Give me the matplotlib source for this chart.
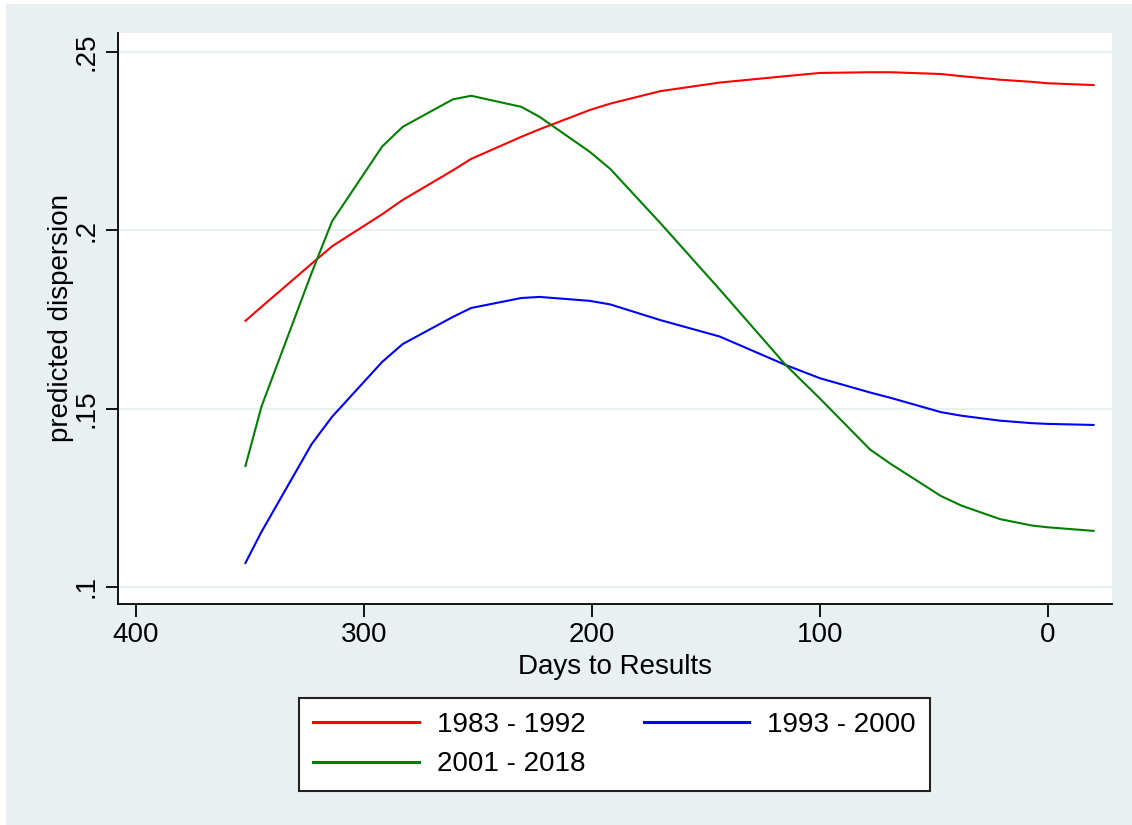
# -*- coding: utf-8 -*-
import matplotlib
matplotlib.use('Agg')
import matplotlib.pyplot as plt
from matplotlib.patches import Rectangle

# 数据
days = [352, 345, 323, 314, 292, 283, 261, 253, 231, 223, 201, 192,
        170, 144, 115, 100, 78, 69, 47, 38, 21, 7, 0, -20]
p1983_1992 = [0.1746, 0.1785, 0.1906, 0.1955, 0.2045, 0.2085, 0.2168, 0.2200,
              0.2262, 0.2283, 0.2337, 0.2355, 0.2390, 0.2414, 0.2432, 0.2441,
              0.2443, 0.2443, 0.2438, 0.2432, 0.2422, 0.2416, 0.2412, 0.2407]
p1993_2000 = [0.1067, 0.1154, 0.1400, 0.1477, 0.1631, 0.1681, 0.1757, 0.1782,
              0.1810, 0.1813, 0.1802, 0.1792, 0.1748, 0.1702, 0.1622, 0.1585,
              0.1545, 0.1530, 0.1490, 0.1480, 0.1466, 0.1459, 0.1457, 0.1454]
p2001_2018 = [0.1339, 0.1505, 0.1880, 0.2025, 0.2235, 0.2290, 0.2367, 0.2377,
              0.2346, 0.2318, 0.2220, 0.2172, 0.2020, 0.1834, 0.1622, 0.1528,
              0.1385, 0.1345, 0.1255, 0.1228, 0.1190, 0.1172, 0.1167, 0.1157]
labels = ['1983 - 1992', '1993 - 2000', '2001 - 2018']
colors = ['red', 'blue', 'green']
xticks = [400, 300, 200, 100, 0]
yticks = [0.1, 0.15, 0.2, 0.25]
yticklabels = ['.1', '.15', '.2', '.25']

bg = '#e8f0f2'
plt.rcParams['font.family'] = ['Liberation Sans', 'DejaVu Sans']
plt.rcParams['font.size'] = 20

fig = plt.figure(figsize=(11.32, 8.25), dpi=100, facecolor='white')
fig.patches.append(Rectangle((6 / 1132, 0), 1, (825 - 4) / 825,
                             transform=fig.transFigure, facecolor=bg,
                             edgecolor='none', zorder=-10))

ax = fig.add_axes([118 / 1132, 1 - 604 / 825, (1112 - 118) / 1132, (604 - 33) / 825])
ax.set_facecolor('white')

lines = []
for ys, c, lab in zip([p1983_1992, p1993_2000, p2001_2018], colors, labels):
    l, = ax.plot(days, ys, color=c, lw=1.5, label=lab)
    lines.append(l)

ax.set_xlim(407.9, -28.1)
ax.set_ylim(0.0952, 0.2553)
ax.set_xticks(xticks)
ax.set_yticks(yticks)
ax.set_yticklabels(yticklabels, rotation=90, va='center')
ax.grid(axis='y', color=bg, lw=1.6)
ax.set_axisbelow(True)

for s in ['top', 'right']:
    ax.spines[s].set_visible(False)
for s in ['left', 'bottom']:
    ax.spines[s].set_linewidth(1.3)
ax.tick_params(length=9, width=1.3, labelsize=20, pad=4)

ax.set_xlabel('Days to Results', fontsize=20, labelpad=4)
ax.set_ylabel('predicted dispersion', fontsize=20, labelpad=0)

# 图例按行排列: 先放第一列(红, 绿), 再放第二列(蓝)
order = [0, 2, 1]
leg = fig.legend([lines[i] for i in order], [labels[i] for i in order],
                 loc='center', bbox_to_anchor=(0.5430, 0.0976), ncol=2,
                 fontsize=20, frameon=True, fancybox=False, framealpha=1,
                 edgecolor='#222222', handlelength=3.8, handletextpad=0.65,
                 columnspacing=2.1, labelspacing=0.5, borderpad=0.5)
leg.get_frame().set_linewidth(1.5)
for h in leg.get_lines():
    h.set_linewidth(2.2)

fig.savefig('out.png', dpi=100, facecolor=fig.get_facecolor())
